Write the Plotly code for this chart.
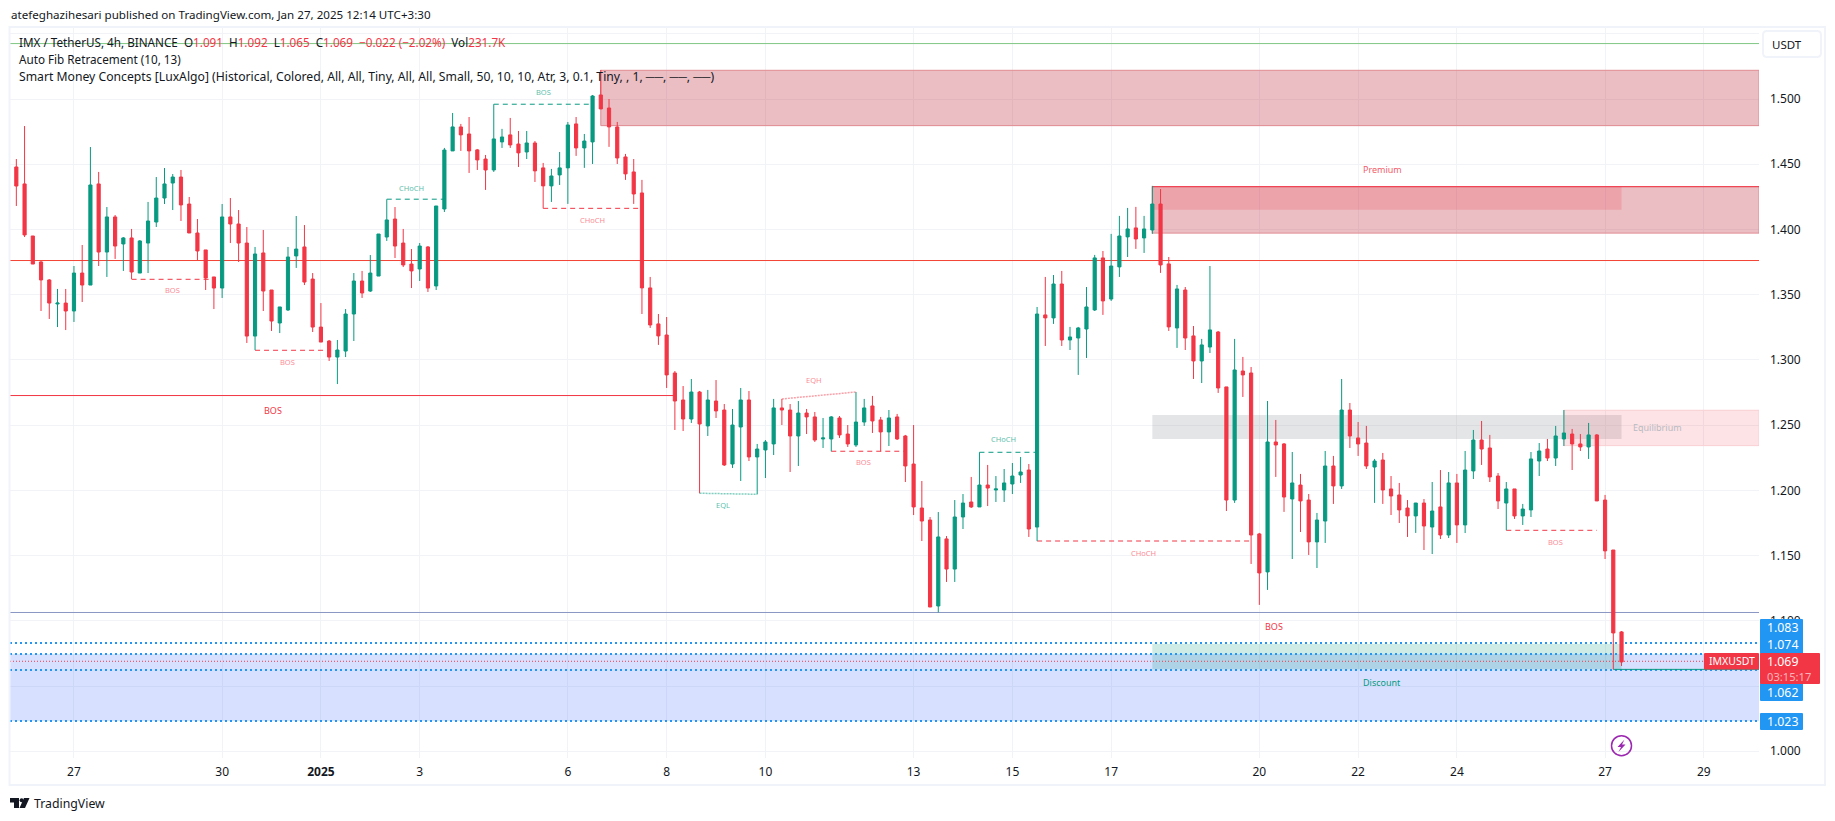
import plotly.graph_objects as go

opens = [
1.4479,1.4349,1.3950,1.3751,1.3613,1.3429,1.3436,1.3375,1.3666,1.3574,
1.4349,1.3827,1.4096,1.3889,1.3935,1.3666,1.3896,1.4057,1.4241,1.4356,
1.4402,1.4195,1.3973,1.3843,1.3636,1.3551,1.4096,1.4042,1.3896,1.3183,
1.3820,1.3536,1.3283,1.3383,1.3797,1.3866,1.3620,1.3252,1.3145,1.3022,
1.3068,1.3352,1.3605,1.3528,1.3643,1.3942,1.4080,1.3896,1.3735,1.3697,
1.3866,1.3567,1.4157,1.4602,1.4786,1.4732,1.4610,1.4540,1.4456,1.4671,
1.4725,1.4655,1.4594,1.4663,1.4472,1.4334,1.4418,1.4472,1.4809,1.4625,
1.4671,1.5031,1.4931,1.4786,1.4556,1.4441,1.4280,1.3552,1.3276,1.3191,
1.2900,1.2693,1.2547,1.2754,1.2494,1.2685,1.2616,1.2202,1.2486,1.2693,
1.2256,1.2310,1.2356,1.2632,1.2616,1.2417,1.2593,1.2563,1.2394,1.2394,
1.2555,1.2432,1.2348,1.2524,1.2647,1.2540,1.2448,1.2563,1.2417,1.2202,
1.1865,1.1773,1.1114,1.1628,1.1397,1.1796,1.1911,1.1873,1.2041,1.2003,
1.2003,1.2049,1.2118,1.2156,1.1719,1.3345,1.3322,1.3582,1.3153,1.3168,
1.3237,1.3383,1.3782,1.3467,1.3713,1.3943,1.4012,1.3935,1.3996,1.4195,
1.3736,1.3245,1.3536,1.3184,1.2992,1.3099,1.3214,1.2793,1.1926,1.2915,
1.2900,1.1666,1.1375,1.2371,1.2356,1.1934,1.2041,1.1926,1.1605,1.1765,
1.2187,1.2034,1.2616,1.2402,1.2363,1.2179,1.2233,1.2011,1.1965,1.1865,
1.1804,1.1903,1.1719,1.1873,1.1658,1.2057,1.1735,1.2149,1.2386,1.2325,
1.2110,1.1903,1.2011,1.1804,1.1850,1.2225,1.2317,1.2248,1.2394,1.2432,
1.2356,1.2333,1.2425,1.1926,1.1543,1.0915]
closes = [
1.4333,1.3958,1.3735,1.3613,1.3436,1.3436,1.3375,1.3666,1.3574,1.4341,
1.3827,1.4096,1.3873,1.3935,1.3674,1.3912,1.4065,1.4241,1.4349,1.4402,
1.4188,1.3973,1.3835,1.3628,1.3551,1.4096,1.4042,1.3896,1.3183,1.3812,
1.3528,1.3298,1.3406,1.3789,1.3850,1.3597,1.3252,1.3137,1.3022,1.3076,
1.3352,1.3605,1.3513,1.3666,1.3965,1.4073,1.3873,1.3728,1.3682,1.3873,
1.3551,1.4180,1.4609,1.4786,1.4725,1.4602,1.4533,1.4456,1.4694,1.4709,
1.4648,1.4587,1.4663,1.4449,1.4334,1.4410,1.4472,1.4801,1.4625,1.4678,
1.5023,1.4924,1.4786,1.4548,1.4426,1.4272,1.3552,1.3268,1.3184,1.2885,
1.2685,1.2547,1.2754,1.2509,1.2693,1.2609,1.2195,1.2501,1.2693,1.2256,
1.2317,1.2371,1.2632,1.2616,1.2417,1.2593,1.2563,1.2386,1.2402,1.2563,
1.2425,1.2356,1.2524,1.2632,1.2532,1.2448,1.2555,1.2394,1.2187,1.1873,
1.1765,1.1106,1.1643,1.1397,1.1796,1.1903,1.1873,1.2041,1.2018,1.2011,
1.2057,1.2110,1.2141,1.1704,1.3352,1.3322,1.3582,1.3153,1.3176,1.3245,
1.3406,1.3782,1.3452,1.3720,1.3950,1.4004,1.3927,1.4004,1.4195,1.3728,
1.3253,1.3544,1.3168,1.2992,1.3115,1.3230,1.2785,1.1926,1.2923,1.2885,
1.1658,1.1367,1.2371,1.2348,1.1949,1.2057,1.1919,1.1605,1.1773,1.2187,
1.2034,1.2616,1.2417,1.2356,1.2187,1.2225,1.2003,1.1957,1.1850,1.1804,
1.1903,1.1727,1.1842,1.1658,1.2057,1.1735,1.2156,1.2386,1.2317,1.2103,
1.1919,1.2011,1.1804,1.1857,1.2241,1.2302,1.2248,1.2417,1.2440,1.2356,
1.2333,1.2425,1.1919,1.1536,1.0907,1.0685]
highs = [
1.4540,1.4793,1.3950,1.3758,1.3620,1.3544,1.3544,1.3720,1.3881,1.4632,
1.4441,1.4172,1.4111,1.3942,1.4004,1.3919,1.4211,1.4402,1.4471,1.4425,
1.4456,1.4249,1.4080,1.3843,1.3636,1.4195,1.4241,1.4149,1.4019,1.3866,
1.3996,1.3536,1.3406,1.3866,1.4103,1.4034,1.3666,1.3436,1.3153,1.3153,
1.3390,1.3666,1.3682,1.3804,1.3965,1.4231,1.4172,1.4004,1.3850,1.3896,
1.3873,1.4180,1.4625,1.4893,1.4809,1.4862,1.4617,1.4571,1.4960,1.4771,
1.4855,1.4755,1.4755,1.4678,1.4510,1.4464,1.4594,1.4824,1.4862,1.4732,
1.5031,1.5223,1.5000,1.4824,1.4579,1.4540,1.4380,1.3636,1.3352,1.3329,
1.2915,1.2800,1.2854,1.2762,1.2770,1.2846,1.2662,1.2624,1.2785,1.2762,
1.2356,1.2386,1.2701,1.2701,1.2662,1.2685,1.2624,1.2601,1.2555,1.2570,
1.2570,1.2501,1.2754,1.2701,1.2724,1.2563,1.2616,1.2586,1.2425,1.2501,
1.2072,1.1796,1.1834,1.1650,1.1926,1.1972,1.2103,1.2292,1.2195,1.2110,
1.2164,1.2210,1.2256,1.2202,1.3406,1.3636,1.3651,1.3682,1.3253,1.3253,
1.3559,1.3805,1.3835,1.3966,1.4104,1.4165,1.4173,1.4104,1.4334,1.4310,
1.3789,1.3575,1.3559,1.3260,1.3161,1.3720,1.3222,1.2793,1.3161,1.3023,
1.2946,1.1674,1.2685,1.2540,1.2363,1.2294,1.2126,1.1972,1.1827,1.2302,
1.2264,1.2854,1.2670,1.2524,1.2494,1.2241,1.2287,1.2110,1.2057,1.1926,
1.1904,1.1934,1.2064,1.2156,1.2141,1.2126,1.2302,1.2463,1.2532,1.2425,
1.2133,1.2064,1.2011,1.1896,1.2294,1.2363,1.2394,1.2494,1.2616,1.2471,
1.2432,1.2517,1.2432,1.1965,1.1543,1.0922]
lows = [
1.4180,1.3942,1.3735,1.3375,1.3314,1.3252,1.3229,1.3291,1.3444,1.3574,
1.3720,1.3636,1.3774,1.3682,1.3620,1.3666,1.3666,1.4019,1.4195,1.4149,
1.4065,1.3973,1.3766,1.3536,1.3390,1.3475,1.3896,1.3751,1.3130,1.3076,
1.3375,1.3222,1.3206,1.3375,1.3705,1.3574,1.3214,1.3137,1.2992,1.2815,
1.3022,1.3145,1.3475,1.3521,1.3643,1.3912,1.3781,1.3712,1.3551,1.3605,
1.3521,1.3536,1.4134,1.4602,1.4602,1.4433,1.4456,1.4303,1.4441,1.4625,
1.4625,1.4479,1.4540,1.4364,1.4162,1.4211,1.4341,1.4196,1.4564,1.4472,
1.4502,1.4924,1.4633,1.4502,1.4380,1.4196,1.3352,1.3245,1.3115,1.2785,
1.2463,1.2455,1.2517,1.1978,1.2417,1.2555,1.2187,1.2172,1.2072,1.2225,
1.1970,1.2095,1.2271,1.2501,1.2141,1.2187,1.2432,1.2371,1.2325,1.2299,
1.2402,1.2333,1.2333,1.2494,1.2440,1.2299,1.2340,1.2386,1.2064,1.1811,
1.1612,1.1106,1.1065,1.1298,1.1298,1.1704,1.1865,1.1873,1.1880,1.1911,
1.1911,1.1972,1.2057,1.1643,1.1612,1.3107,1.3276,1.3107,1.3076,1.2885,
1.3015,1.3375,1.3345,1.3452,1.3636,1.3789,1.3851,1.3820,1.3966,1.3667,
1.3222,1.3092,1.3076,1.2854,1.2823,1.3053,1.2747,1.1842,1.1904,1.2716,
1.1436,1.1122,1.1237,1.2103,1.1835,1.1474,1.1681,1.1505,1.1405,1.1597,
1.1896,1.2011,1.2325,1.2264,1.2164,1.1904,1.1896,1.1811,1.1750,1.1643,
1.1674,1.1543,1.1512,1.1627,1.1635,1.1597,1.1673,1.2087,1.2195,1.2064,
1.1857,1.1694,1.1781,1.1735,1.1796,1.2110,1.2225,1.2187,1.2340,1.2156,
1.2302,1.2241,1.1919,1.1474,1.0628,1.0654]

date_ticks = [7, 25, 37, 49, 67, 79, 91, 109, 121, 133, 151, 163, 175, 193, 205]
date_labels = ["27", "30", "<b>2025</b>", "3", "6", "8", "10", "13", "15", "17", "20", "22", "24", "27", "29"]
price_ticks = [1.00, 1.05, 1.10, 1.15, 1.20, 1.25, 1.30, 1.35, 1.40, 1.45, 1.50, 1.55]
price_labels = ["1.000", " ", "1.100", "1.150", "1.200", "1.250", "1.300", "1.350", "1.400", "1.450", "1.500", " "]

# full-width horizontal levels
green_top_level = 1.5425
red_level = 1.3762
bos_level = 1.2727
swing_low_level = 1.1064
fib_levels = [1.0830, 1.0746, 1.0623, 1.0232]
last_close = 1.069
last_low_level = 1.0628

# zones: x0, x1 (None = right edge), top, bottom
ob_upper = (71, None, 1.5220, 1.4796)
ob_middle = (138, None, 1.4328, 1.3972)
ob_lower = (188, None, 1.2614, 1.2343)
premium = (138, 195, 1.4328, 1.4152)
equilibrium = (138, 195, 1.2578, 1.2394)
discount = (138, 195, 1.0823, 1.0629)
fib_zone = (None, None, 1.0746, 1.0232)

# structure lines: x0, x1, price
bos_red_lines = [(14, 24, 1.3618), (29, 38, 1.3074), (99, 108, 1.2300), (181, 192, 1.1694)]
choch_red_lines = [(64, 76, 1.4162), (124, 150, 1.1612)]
green_lines = [(45, 52, 1.4232), (58, 70, 1.4960), (117, 124, 1.2292)]
eqh_line = (93, 102, 1.2701, 1.2754)
eql_line = (83, 90, 1.1978, 1.1970)

small_labels = [
    ("BOS", 64, 1.5056, "g"), ("CHoCH", 48, 1.4320, "g"), ("BOS", 19, 1.3534, "r"),
    ("BOS", 33, 1.2982, "r"), ("CHoCH", 70, 1.4071, "r"), ("EQH", 96.9, 1.2844, "r"),
    ("EQL", 85.9, 1.1886, "g"), ("BOS", 102.9, 1.2215, "r"), ("CHoCH", 119.9, 1.2392, "g"),
    ("CHoCH", 136.9, 1.1522, "r"), ("BOS", 187, 1.1602, "r"),
]

W, H = 1835, 821
L, R, T, B = 10, 1759, 27, 758
FONT = "Noto Sans, sans-serif"
GREEN, RED = "#089981", "#f23645"
XMIN, XMAX = -0.77, 211.7
YMIN, YMAX = 0.99486, 1.5552


def px(x):
    return (x - L) / (R - L)


def py(y):
    return 1 - (y - T) / (B - T)


fig = go.Figure(go.Candlestick(
    x=list(range(len(opens))), open=opens, high=highs, low=lows, close=closes,
    increasing=dict(line=dict(color=GREEN, width=1), fillcolor=GREEN),
    decreasing=dict(line=dict(color=RED, width=1), fillcolor=RED),
    whiskerwidth=0, showlegend=False, hoverinfo="skip",
))

shapes = []


def hline(y, color, width=1, dash="solid", x0=XMIN, x1=XMAX):
    shapes.append(dict(type="line", xref="x", yref="y", x0=x0, x1=x1, y0=y, y1=y,
                       line=dict(color=color, width=width, dash=dash), layer="between"))


def rect(zone, fill, line=None, top_line=None):
    x0 = XMIN if zone[0] is None else zone[0]
    x1 = XMAX if zone[1] is None else zone[1]
    shapes.append(dict(type="rect", xref="x", yref="y", x0=x0, x1=x1, y0=zone[3], y1=zone[2],
                       fillcolor=fill, line=dict(width=1 if line else 0, color=line or fill), layer="between"))
    if top_line:
        hline(zone[2], top_line, 1, "solid", x0, x1)


rect(fib_zone, "rgba(41,98,255,0.19)")
rect(ob_upper, "rgba(190,40,55,0.30)", "#e08b92")
rect(ob_middle, "rgba(190,40,55,0.30)", "#e08b92", top_line=RED)
rect(premium, "rgba(242,54,69,0.20)")
rect(equilibrium, "rgba(120,123,134,0.20)")
rect(ob_lower, "rgba(242,54,69,0.14)", "#f8cfd2")
rect(discount, "rgba(8,153,129,0.20)")

hline(green_top_level, "#81c784")
hline(red_level, "#f44336")
hline(bos_level, RED, 1, "solid", XMIN, 80)
hline(swing_low_level, "#8a97c4")
for lv in fib_levels:
    hline(lv, "#2196f3", 2, "2px,3px")
hline(last_close, RED, 1, "1px,2px")
hline(last_low_level, GREEN, 1, "solid", 194, XMAX)
for x0, x1, y in bos_red_lines + choch_red_lines:
    hline(y, RED, 1, "5px,4px", x0, x1)
for x0, x1, y in green_lines:
    hline(y, GREEN, 1, "5px,4px", x0, x1)
shapes.append(dict(type="line", xref="x", yref="y", x0=eqh_line[0], x1=eqh_line[1], y0=eqh_line[2], y1=eqh_line[3],
                   line=dict(color="#f8a0a8", width=1.5, dash="2px,1px"), layer="between"))
shapes.append(dict(type="line", xref="x", yref="y", x0=eql_line[0], x1=eql_line[1], y0=eql_line[2], y1=eql_line[3],
                   line=dict(color="#7fcdbf", width=1.5, dash="2px,1px"), layer="between"))


def box(x0, y0, x1, y1, fill, line=None, r=0):
    path = (f"M{px(x0 + r)},{py(y0)} L{px(x1 - r)},{py(y0)} Q{px(x1)},{py(y0)} {px(x1)},{py(y0 + r)} "
            f"L{px(x1)},{py(y1 - r)} Q{px(x1)},{py(y1)} {px(x1 - r)},{py(y1)} "
            f"L{px(x0 + r)},{py(y1)} Q{px(x0)},{py(y1)} {px(x0)},{py(y1 - r)} "
            f"L{px(x0)},{py(y0 + r)} Q{px(x0)},{py(y0)} {px(x0 + r)},{py(y0)} Z")
    shapes.append(dict(type="path", xref="paper", yref="paper", path=path, fillcolor=fill,
                       line=dict(width=2 if line else 0, color=line or fill), layer="above"))


# outer frame and USDT button
shapes.append(dict(type="rect", xref="paper", yref="paper", x0=px(9.5), x1=px(1825), y0=py(785), y1=py(27),
                   line=dict(color="#f0f3fa", width=2), layer="above"))
box(1763, 31, 1821, 57, "#ffffff", "#f0f3fa", r=4)

# price boxes
box(1760, 619, 1803, 654, "#2196f3", r=1)
box(1760, 683, 1803, 701, "#2196f3", r=1)
box(1760, 713, 1803, 730, "#2196f3", r=1)
box(1760, 653, 1820, 684, RED, r=1)
box(1704, 653, 1759, 669.5, RED, r=1)

# lightning mark
shapes.append(dict(type="circle", xref="paper", yref="paper", x0=px(1611.5), x1=px(1631.5), y0=py(755.7), y1=py(735.7),
                   line=dict(color="#9c27b0", width=1.5), fillcolor="rgba(255,255,255,0)", layer="above"))
bolt = [(1624.5, 739.5), (1617.5, 747), (1621, 747), (1618.5, 752), (1625.5, 744.5), (1622, 744.5)]
shapes.append(dict(type="path", xref="paper", yref="paper",
                   path="M" + " L".join(f"{px(a)},{py(b)}" for a, b in bolt) + " Z",
                   fillcolor="#9c27b0", line=dict(width=0), layer="above"))

# TradingView logo
logo = (f"M{px(10)},{py(798)} L{px(19)},{py(798)} L{px(19)},{py(808)} L{px(14)},{py(808)} L{px(14)},{py(802.5)} L{px(10)},{py(802.5)} Z "
        f"M{px(29.5)},{py(798)} L{px(25)},{py(808)} L{px(19.5)},{py(808)} L{px(24)},{py(798)} Z")
shapes.append(dict(type="path", xref="paper", yref="paper", path=logo, fillcolor="#131722", line=dict(width=0), layer="above"))
shapes.append(dict(type="circle", xref="paper", yref="paper", x0=px(19.6), x1=px(23.6), y0=py(802.2), y1=py(798.2),
                   fillcolor="#131722", line=dict(width=0), layer="above"))

ann = []


def ptext(x, y, text, size=12, color="#131722", anchor="left"):
    ann.append(dict(xref="paper", yref="paper", x=px(x), y=py(y), text=text, showarrow=False, xanchor=anchor,
                    yanchor="middle", align="left", borderpad=0, font=dict(family=FONT, size=size, color=color)))


def dtext(x, y, text, size, color):
    ann.append(dict(xref="x", yref="y", x=x, y=y, text=text, showarrow=False, xanchor="center", yanchor="middle",
                    font=dict(family=FONT, size=size, color=color)))


for text, x, y, group in small_labels:
    dtext(x, y, text, 7.5, "#5fbfae" if group == "g" else "#fb8c96")
dtext(166, 1.4456, "Premium", 9, "#f2606c")
dtext(199.4, 1.248, "Equilibrium", 9, "#b8bac2")
dtext(165.9, 1.0524, "Discount", 9, GREEN)
dtext(31.2, 1.2609, "BOS", 9, RED)
dtext(152.8, 1.0953, "BOS", 9, RED)

ptext(10, 15, "atefeghazihesari published on TradingView.com, Jan 27, 2025 12:14 UTC+3:30", 11.6)


def v(s):
    return f'<span style="color:{RED}">{s}</span>'


ptext(18, 41.7, f"IMX / TetherUS, 4h, BINANCE  O{v('1.091')}  H{v('1.092')}  L{v('1.065')}  C{v('1.069')}  {v('−0.022 (−2.02%)')}  Vol{v('231.7K')}", 11.7)
ptext(18, 59, "Auto Fib Retracement (10, 13)", 11.7)
ptext(18, 76, "Smart Money Concepts [LuxAlgo] (Historical, Colored, All, All, Tiny, All, All, Small, 50, 10, 10, Atr, 3, 0.1, Tiny, , 1, ──, ──, ──)", 12.2)

ptext(1770.5, 44, "USDT", 11.5)
ptext(1766.5, 627.3, "1.083", 12.3, "#ffffff")
ptext(1766.5, 644.7, "1.074", 12.3, "#ffffff")
ptext(1766.5, 661, "1.069", 12.3, "#ffffff")
ptext(1766.5, 676.2, "03:15:17", 11.2, "#fbb4ba")
ptext(1766.5, 692.3, "1.062", 12.3, "#ffffff")
ptext(1766.5, 721.7, "1.023", 12.3, "#ffffff")
ptext(1731.5, 661, "IMXUSDT", 10.5, "#ffffff", anchor="center")
ptext(33, 803, "TradingView", 12.3, "#131722")

fig.update_layout(
    width=W, height=H, autosize=False, paper_bgcolor="#ffffff", plot_bgcolor="#ffffff",
    margin=dict(l=L, r=W - R, t=T, b=H - B), showlegend=False, shapes=shapes, annotations=ann,
    font=dict(family=FONT, color="#131722", size=12), hovermode=False, dragmode=False, boxgap=0.45,
    xaxis=dict(range=[XMIN, XMAX], tickvals=date_ticks, ticktext=date_labels, gridcolor="#f2f3f6", gridwidth=1,
               rangeslider=dict(visible=False), zeroline=False, showline=False, ticks="", ticklabelstandoff=5,
               tickfont=dict(family=FONT, size=12, color="#131722"), tickangle=0),
    yaxis=dict(range=[YMIN, YMAX], side="right", tickvals=price_ticks, ticktext=price_labels, gridcolor="#f2f3f6",
               gridwidth=1, zeroline=False, showline=False, ticks="", ticklabelstandoff=10,
               tickfont=dict(family=FONT, size=12, color="#131722")),
)

fig.write_html("out.html", post_script="document.body.style.margin='0';document.documentElement.style.overflow='hidden';",
               config=dict(displayModeBar=False, staticPlot=True))
